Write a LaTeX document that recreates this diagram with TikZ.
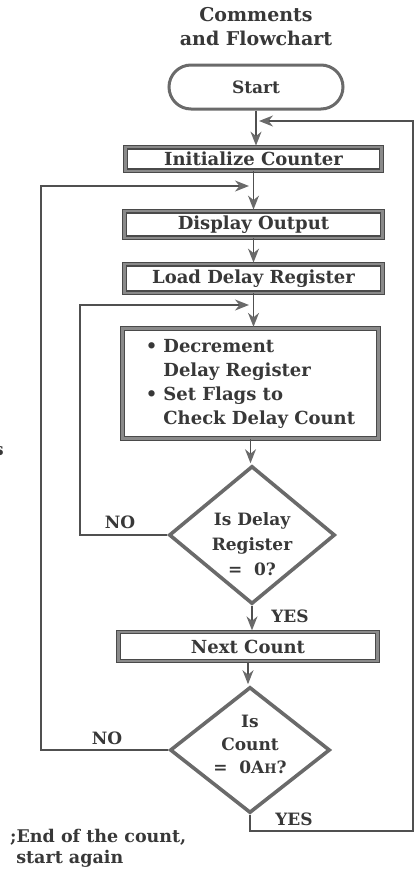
\documentclass[tikz,border=0pt]{standalone}
\usepackage{fontspec}
\setmainfont{DejaVu Serif}
\usetikzlibrary{shapes.geometric,arrows.meta}

\definecolor{ink}{HTML}{383838}
\definecolor{rimdark}{HTML}{4A4A4A}
\definecolor{rimlight}{HTML}{8A8A8A}
\definecolor{rim}{HTML}{6A6A6A}
\definecolor{wire}{HTML}{505050}

\tikzset{
  txt/.style={text=ink, inner sep=0pt, font=\fontsize{17}{20}\selectfont\bfseries},
  heading/.style={text=ink, inner sep=0pt, align=center, font=\fontsize{19}{24}\selectfont\bfseries},
  proc/.style={draw=rimdark, line width=1.3pt, double=rimlight, double distance=2.3pt,
               inner sep=0pt, text=ink, font=\fontsize{18}{24}\selectfont\bfseries},
  term/.style={draw=rim, line width=3pt, rounded corners=22pt, inner sep=0pt,
               text=ink, font=\fontsize{17}{20}\selectfont\bfseries},
  decide/.style={diamond, draw=rim, line width=3.6pt, inner sep=0pt},
  flow/.style={draw=wire, line width=1.6pt},
  arrowed/.style={-{Stealth[length=14pt,width=11pt,inset=4.5pt,color=rim]}, shorten >=1pt},
}

\begin{document}
\begin{tikzpicture}[x=1pt,y=-1pt]
\useasboundingbox (0,0) rectangle (418,871);

% title
\node[heading] (title) at (256,27) {Comments\\and Flowchart};

% flowchart boxes
\node[term, minimum width=174pt, minimum height=44pt] (start) at (256,87) {Start};
\node[proc, minimum width=256pt, minimum height=23.5pt] (init) at (253.5,159) {Initialize Counter};
\node[proc, minimum width=258pt, minimum height=26.5pt] (disp) at (253.5,224.5) {Display Output};
\node[proc, minimum width=258pt, minimum height=28.5pt] (load) at (253.5,278.5) {Load Delay Register};
\node[proc, minimum width=256pt, minimum height=110pt] (dec) at (250.5,383.5)
  {\begin{tabular}{@{}l@{\hspace{6pt}}l@{}}
    • & Decrement\\
      & Delay Register\\
    • & Set Flags to\\
      & Check Delay Count
   \end{tabular}};
\node[decide, minimum width=166pt, minimum height=138pt] (q1) at (252,535) {};
\node[txt, align=center, font=\fontsize{17}{25}\selectfont\bfseries] (q1t) at (252,544) {Is Delay\\Register\\= \ 0?};
\node[proc, minimum width=259pt, minimum height=29pt] (next) at (248,646.5) {Next Count};
\node[decide, minimum width=160pt, minimum height=126pt] (q2) at (250,750) {};
\node[txt, align=center, font=\fontsize{17}{23}\selectfont\bfseries] (q2t) at (250,744) {Is\\Count\\= \ 0A{\fontsize{13}{13}\selectfont H}?};

% branch labels
\node[txt] (no1) at (120,522) {NO};
\node[txt] (yes1) at (290,616) {YES};
\node[txt] (no2) at (107,738) {NO};
\node[txt] (yes2) at (294,819) {YES};

% comments
\node[txt, anchor=west, align=left, font=\fontsize{17.5}{21}\selectfont\bfseries] (endc) at (10,848)
  {;End of the count,\\\ start again};
\node[txt, anchor=west] (frag) at (-6,451) {s};

% loop corner points
\coordinate (rb) at (413,831);
\coordinate (rt) at (413,121);
\coordinate (ja) at (258,121);
\coordinate (lb) at (41,186);
\coordinate (jb) at (250,186);
\coordinate (lc) at (80,305);
\coordinate (jc) at (250,305);

% main flow
\draw[flow,arrowed] (start.south) -- (start.south |- init.north);
\draw[flow,arrowed] (init.south) -- (disp.north);
\draw[flow,arrowed] (disp.south) -- (load.north);
\draw[flow,arrowed] (load.south) -- (load.south |- dec.north);
\draw[flow,arrowed] (dec.south) -- (dec.south |- q1.north);
\draw[flow,arrowed] (q1.south) -- (q1.south |- next.north);
\draw[flow,arrowed] (next.south) -- (next.south |- q2.north);

% loops back
\draw[flow,arrowed] (q1.west) -| (lc) -- (jc);
\draw[flow,arrowed] (q2.west) -| (lb) -- (jb);
\draw[flow,arrowed] (q2.south) |- (rb) -- (rt) -- (ja);
\end{tikzpicture}
\end{document}
